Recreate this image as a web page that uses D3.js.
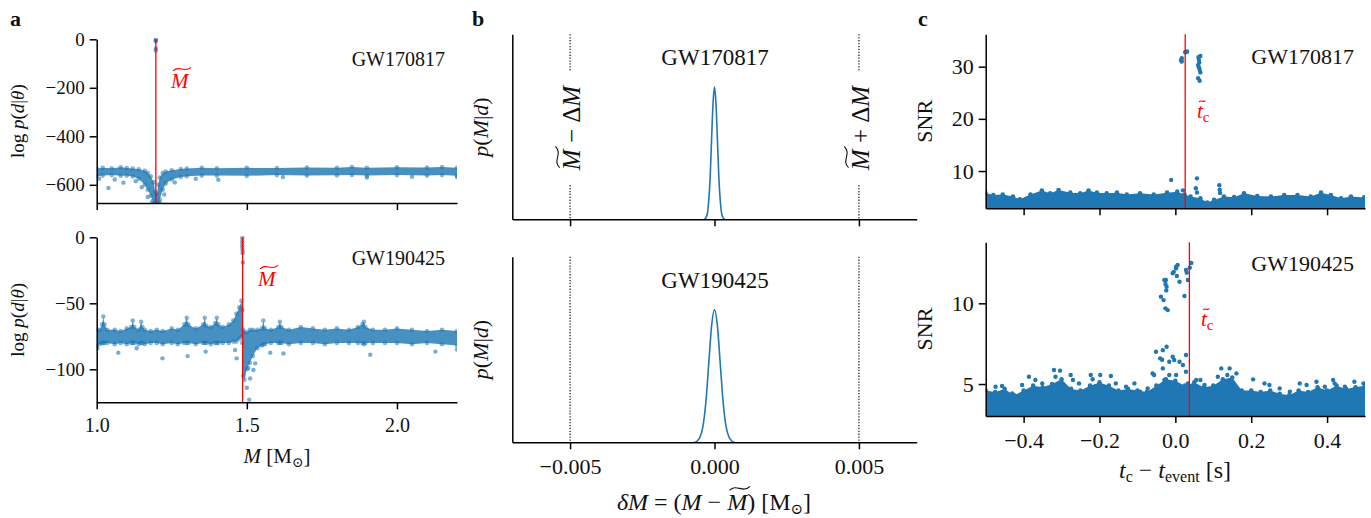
<!doctype html>
<html>
<head>
<script src="https://d3js.org/d3.v7.min.js"></script>
<style>
  body { margin: 0; background: #fff; }
  svg { font-family: "Liberation Serif", "DejaVu Serif", serif; }
  .axis path, .axis line { stroke: #000; stroke-width: 1.5; }
  .axis text { fill: #111; font-family: "Liberation Serif", serif; }
</style>
</head>
<body>
<svg width="1371" height="518"></svg>
<script>
// ---------- data ----------
// panel a, GW170817: upper / lower edge of the dense log-likelihood band, plus stray points
var aTopM  = [1.00,1.02,1.05,1.08,1.10,1.12,1.14,1.16,1.17,1.18,1.19,1.195,1.200,1.205,1.21,1.22,1.23,1.25,1.28,1.30,1.35,1.40,1.50,1.60,1.70,1.80,1.85,1.90,2.00,2.10,2.15,2.20];
var aTopHi = [-533,-530,-532,-528,-531,-533,-536,-542,-550,-565,-590,-630,-640,-600,-570,-552,-545,-540,-535,-533,-530,-532,-530,-531,-529,-530,-527,-530,-528,-529,-527,-530];
var aTopLo = [-565,-562,-560,-563,-562,-566,-575,-600,-620,-645,-675,-680,-680,-675,-660,-620,-595,-578,-568,-565,-562,-562,-563,-560,-562,-561,-560,-562,-560,-562,-560,-563];
var aTopDots = [[1.008,-575],[1.039,-613],[1.06,-578],[1.089,-591],[1.13,-585],[1.15,-610],[1.17,-650],[1.185,-668],
  [1.21,-672],[1.225,-640],[1.26,-590],[1.33,-575],[1.405,-579],[1.62,-568],[1.9,-570],[2.05,-567],[2.2,-568],
  [1.197,0],[1.197,-4],[1.197,-8],[1.197,-38],[1.197,-46]];
var aTopTrue = 1.197;

// panel a, GW190425
var aBotM  = [1.000,1.010,1.018,1.022,1.026,1.035,1.06,1.08,1.10,1.115,1.12,1.125,1.14,1.148,1.152,1.16,1.18,1.20,1.22,1.25,1.27,1.292,1.30,1.305,1.33,1.355,1.36,1.365,1.38,1.395,1.40,1.405,1.42,1.44,1.455,1.465,1.475,1.482,1.485,1.488,1.492,1.50,1.51,1.52,1.535,1.55,1.555,1.56,1.58,1.605,1.61,1.615,1.64,1.68,1.72,1.76,1.80,1.84,1.87,1.885,1.89,1.895,1.92,1.96,2.00,2.05,2.10,2.15,2.20];
var aBotHi = [-70,-70,-66,-60,-66,-70,-70,-71,-69,-68,-63,-68,-70,-64,-68,-70,-71,-70,-71,-69,-70,-66,-61,-66,-69,-66,-61,-67,-68,-65,-61,-66,-68,-66,-63,-58,-53,-48,-55,-70,-72,-72,-70,-70,-70,-69,-63,-69,-70,-68,-64,-68,-70,-68,-69,-70,-69,-70,-68,-66,-64,-68,-70,-70,-69,-70,-71,-70,-71];
var aBotLo = [-83,-81,-80,-80,-80,-80,-81,-80,-81,-80,-80,-80,-81,-80,-80,-81,-80,-80,-81,-80,-81,-80,-80,-80,-81,-80,-80,-80,-81,-80,-80,-80,-80,-80,-79,-79,-77,-75,-80,-105,-108,-100,-95,-90,-84,-82,-81,-81,-80,-80,-80,-80,-81,-80,-80,-81,-80,-80,-80,-80,-81,-80,-80,-80,-80,-81,-80,-81,-82];
var aBotDots = [[1.002,-84],[1.072,-87.4],[1.133,-84],[1.219,-91.7],[1.303,-90],[1.363,-86.6],[1.461,-85.4],[1.466,-91.7],
  [1.505,-99],[1.511,-107],[1.50,-114],[1.508,-123],[1.522,-100.5],[1.528,-95.5],[1.578,-87.4],[1.622,-88],[1.911,-89],[2.128,-86.6],[2.2,-85],
  [1.485,0],[1.485,-2],[1.485,-4],[1.485,-6],[1.485,-8],[1.486,-10],[1.486,-12],[1.487,-19]];
var aBotTrue = 1.486;

// panel b: chirp-mass posteriors (peak normalised to 1)
var bTopDM = [-0.00035,-0.0003,-0.00025,-0.0002,-0.00015,-0.0001,-0.00005,0,0.00005,0.0001,0.00015,0.0002,0.00025,0.0003,0.00035];
var bTopP  = [0,0.01,0.04,0.14,0.32,0.61,0.88,1.0,0.88,0.61,0.32,0.14,0.04,0.01,0];
var bBotDM = [-0.0007,-0.0006,-0.0005,-0.0004,-0.0003,-0.0002,-0.0001,0,0.0001,0.0002,0.0003,0.0004,0.0005,0.0006,0.0007];
var bBotP  = [0,0.01,0.04,0.12,0.30,0.59,0.88,1.0,0.88,0.59,0.30,0.12,0.04,0.01,0];
var bBounds = [-0.005, 0.005];

// panel c, GW170817: upper edge of the SNR noise floor, loud triggers
var cTopT  = [-0.501,-0.48,-0.455,-0.428,-0.41,-0.382,-0.352,-0.33,-0.308,-0.277,-0.251,-0.229,-0.207,-0.181,-0.154,-0.128,-0.093,-0.057,-0.022,0.005,0.024,0.040,0.066,0.084,0.102,0.128,0.155,0.181,0.216,0.252,0.287,0.322,0.357,0.384,0.410,0.437,0.463,0.498,0.51];
var cTopHi = [5.86,5.42,5.5,5.1,4.6,5.5,6.25,5.75,6.38,5.86,5.75,6.25,5.86,5.75,5.86,5.5,5.75,5.5,5.86,6.05,5.5,5.1,4.8,3.95,4.47,5.1,5.0,5.75,5.2,5.1,5.42,5.42,5.1,5.86,5.42,4.8,5.1,4.95,4.9];
var cTopDots = [[-0.011,8.3],[0.057,8.6],[0.054,6.7],[0.057,5.9],[0.116,7.3],[0.117,6.4],[0.118,5.8],[0.02,6.3],
  [0.017,31.6],[0.015,31.2],[0.017,31.0],[0.026,32.75],[0.031,32.9],[0.029,32.8],
  [0.066,32.05],[0.062,31.3],[0.060,30.3],[0.064,29.4],[0.066,28.9],[0.060,27.8],[0.064,27.3],[0.061,31.8],[0.063,30.8],[0.062,29.9]];
var cTopTrue = 0.026;

// panel c, GW190425
var cBotT  = [-0.5,-0.475,-0.45,-0.425,-0.40,-0.375,-0.35,-0.325,-0.30,-0.275,-0.25,-0.225,-0.20,-0.175,-0.15,-0.125,-0.10,-0.075,-0.05,-0.025,0.0,0.025,0.05,0.075,0.10,0.125,0.15,0.175,0.20,0.225,0.25,0.275,0.30,0.325,0.35,0.375,0.40,0.425,0.45,0.475,0.5];
var cBotHi = [4.6,4.5,4.7,4.3,4.6,4.9,4.8,5.0,5.3,4.7,4.6,4.9,5.1,4.9,4.6,4.7,4.6,4.5,4.9,5.3,5.2,4.9,5.1,4.8,4.9,5.3,5.4,4.6,4.6,4.5,4.6,4.4,4.3,4.6,4.5,4.8,4.6,4.9,4.7,4.8,4.9];
var cBotDots = [[-0.474,4.83],[-0.457,4.88],[-0.43,4.42],[-0.404,4.94],[-0.386,5.45],[-0.369,5.25],[-0.351,5.04],
  [-0.32,5.87],[-0.304,5.83],[-0.316,5.45],[-0.302,4.83],[-0.276,5.56],[-0.27,5.25],[-0.254,5.04],[-0.223,5.56],[-0.218,5.3],
  [-0.198,5.56],[-0.17,5.5],[-0.21,4.83],[-0.157,5.04],[-0.13,4.83],[-0.108,5.04],[-0.093,4.52],[-0.073,4.73],[-0.06,5.66],[-0.056,5.56],
  [-0.051,7.0],[-0.033,7.1],[-0.023,7.31],[-0.04,6.59],[-0.035,6.5],[-0.016,6.38],[-0.003,6.49],[0.011,6.38],[-0.033,5.97],
  [-0.016,5.56],[-0.029,5.25],[0.002,5.56],[-0.045,4.83],[-0.007,6.69],[0.028,6.8],[0.02,6.18],[0.028,5.76],[0.033,5.04],
  [0.055,5.25],[0.066,5.25],[0.077,4.94],[0.121,5.97],[0.143,5.97],[0.161,5.66],[0.137,5.56],[0.112,5.45],[0.205,5.29],
  [0.235,5.04],[0.248,4.94],[0.275,4.73],[0.302,4.52],[0.328,5.04],[0.346,4.94],[0.372,5.14],[0.394,4.83],[0.416,5.25],
  [0.42,5.04],[0.447,4.83],[0.472,5.14],[0.496,5.04],
  [-0.038,10.41],[-0.031,10.2],[-0.026,9.69],[-0.025,11.44],[-0.023,11.03],[-0.024,10.8],[-0.026,11.2],[-0.007,11.86],[0.002,12.17],
  [0.006,12.37],[0.011,11.34],[0.028,12.06],[0.042,12.5],[0.033,11.44],[0.024,10.45],[-0.02,9.58],[-0.029,11.44],
  [0.002,12.27],[-0.004,11.95],[0.004,11.7],[0.038,12.2],[0.030,11.9]];
var cBotTrue = 0.037;

var events = ["GW170817", "GW190425"];

// ---------- drawing ----------
var svg = d3.select("svg");
var blue = "#1f77b4", red = "#ff0000";

function makePanel(id, x0, x1, y0, y1, xdom, ydom) {
  var x = d3.scaleLinear().domain(xdom).range([x0, x1]);
  var y = d3.scaleLinear().domain(ydom).range([y1, y0]);
  svg.append("clipPath").attr("id", id).append("rect")
    .attr("x", x0).attr("y", y0 - 1).attr("width", x1 - x0).attr("height", y1 - y0 + 1);
  var g = svg.append("g");
  var plot = g.append("g").attr("clip-path", "url(#" + id + ")");
  return {g: g, plot: plot, x: x, y: y, x0: x0, x1: x1, y0: y0, y1: y1};
}

function drawAxes(p, xticks, xfmt, xfs, yticks, yfmt, yfs) {
  var ax = p.g.append("g").attr("class", "axis")
    .attr("transform", "translate(0," + p.y1 + ")")
    .call(d3.axisBottom(p.x).tickValues(xticks).tickSize(7).tickPadding(9).tickSizeOuter(0)
      .tickFormat(xfmt ? d3.format(xfmt) : function() { return ""; }));
  ax.attr("font-size", xfs);
  var ay = p.g.append("g").attr("class", "axis")
    .attr("transform", "translate(" + p.x0 + ",0)")
    .call(d3.axisLeft(p.y).tickValues(yticks).tickSize(7).tickPadding(5).tickSizeOuter(0)
      .tickFormat(yfmt ? d3.format(yfmt) : function() { return ""; }));
  ay.attr("font-size", yfs);
}

function tilde(g, x0, x1, yc, color, sw) {
  var w = x1 - x0, a = w * 0.1;
  g.append("path")
    .attr("d", "M" + x0 + "," + (yc + a) + " C" + (x0 + w * 0.35) + "," + (yc - a * 2.6) + " " +
      (x0 + w * 0.62) + "," + (yc + a * 2.6) + " " + x1 + "," + (yc - a))
    .attr("fill", "none").attr("stroke", color).attr("stroke-width", sw || 1.1);
}

function tildeOnChar(textSel, idx, fs, color, lift) {
  var n = textSel.node();
  var s = n.getStartPositionOfChar(idx), e = n.getEndPositionOfChar(idx);
  tilde(d3.select(n.parentNode), s.x + 0.1 * fs, e.x + 0.12 * fs, s.y - (lift || 0.86) * fs, color, 1.1);
}

function eventLabel(g, x, y, txt, anchor, fs) {
  g.append("text").attr("x", x).attr("y", y).attr("text-anchor", anchor)
    .attr("font-size", fs).attr("fill", "#111").text(txt);
}

function yLabel(xBase, cy, fs, build) {
  var g = svg.append("g").attr("transform", "translate(" + xBase + "," + cy + ") rotate(-90)");
  var t = g.append("text").attr("text-anchor", "middle").attr("font-size", fs).attr("fill", "#111");
  build(t);
  return {g: g, t: t};
}

// ---- panel a ----
var aFrames = [
  makePanel("ca1", 96.7, 457, 39.3, 203, [1.0, 2.2], [-675, 0]),
  makePanel("ca2", 96.7, 457, 237.3, 402.3, [1.0, 2.2], [-125, 0])
];
var aBands = [[aTopM, aTopHi, aTopLo, aTopDots, aTopTrue], [aBotM, aBotHi, aBotLo, aBotDots, aBotTrue]];

aFrames.forEach(function(p, k) {
  var M = aBands[k][0], hi = aBands[k][1], lo = aBands[k][2], dots = aBands[k][3];
  var rows = M.map(function(m, i) { return [m, hi[i], lo[i]]; });
  p.plot.append("path").datum(rows)
    .attr("d", d3.area().x(function(d) { return p.x(d[0]); })
      .y0(function(d) { return p.y(d[2]); }).y1(function(d) { return p.y(d[1]); }))
    .attr("fill", blue).attr("fill-opacity", 0.82);
  // points on the read edges roughen the outline like the scatter
  var edge = [];
  rows.forEach(function(r) { edge.push([r[0], r[1]]); edge.push([r[0], r[2]]); });
  p.plot.selectAll("circle.e").data(edge).enter().append("circle").attr("class", "e")
    .attr("cx", function(d) { return p.x(d[0]); }).attr("cy", function(d) { return p.y(d[1]); })
    .attr("r", 2.3).attr("fill", blue).attr("fill-opacity", 0.55);
  p.plot.selectAll("circle.d").data(dots).enter().append("circle").attr("class", "d")
    .attr("cx", function(d) { return p.x(d[0]); }).attr("cy", function(d) { return p.y(d[1]); })
    .attr("r", 2.2).attr("fill", blue).attr("fill-opacity", 0.6);
  var xt = p.x(aBands[k][4]);
  p.g.append("line").attr("x1", xt).attr("x2", xt).attr("y1", p.y0).attr("y2", p.y1)
    .attr("stroke", red).attr("stroke-width", 1.3);
});
drawAxes(aFrames[0], [1.0, 1.5, 2.0], null, 20, [0, -200, -400, -600], "d", 19);
drawAxes(aFrames[1], [1.0, 1.5, 2.0], ".1f", 20, [0, -50, -100], "d", 19);

eventLabel(svg, 445, 66, events[0], "end", 20);
eventLabel(svg, 445, 265, events[1], "end", 20);

// red M-tilde labels
[[171, 88], [258, 286]].forEach(function(pos) {
  var t = svg.append("text").attr("x", pos[0]).attr("y", pos[1]).attr("font-size", 21)
    .attr("font-style", "italic").attr("fill", red).text("M");
  tildeOnChar(t, 0, 21, red, 0.9);
});

[[121.2, 24], [319.8, 24]].forEach(function(pos) {
  yLabel(pos[1], pos[0], 19, function(t) {
    t.append("tspan").text("log ");
    t.append("tspan").attr("font-style", "italic").text("p");
    t.append("tspan").text("(");
    t.append("tspan").attr("font-style", "italic").text("d");
    t.append("tspan").text("|");
    t.append("tspan").attr("font-style", "italic").text("θ");
    t.append("tspan").text(")");
  });
});

var axa = svg.append("text").attr("x", 277).attr("y", 463).attr("text-anchor", "middle")
  .attr("font-size", 21).attr("fill", "#111");
axa.append("tspan").attr("font-style", "italic").text("M");
axa.append("tspan").text(" [M");
axa.append("tspan").attr("font-size", 14).attr("dy", 4).text("⊙");
axa.append("tspan").attr("dy", -4).text("]");

// ---- panel b ----
var bFrames = [
  makePanel("cb1", 512.3, 916.7, 34.3, 219.3, [-0.007, 0.007], [0, 1.4]),
  makePanel("cb2", 512.3, 916.7, 256.7, 442.3, [-0.007, 0.007], [0, 1.4])
];
var bCurves = [[bTopDM, bTopP], [bBotDM, bBotP]];
bFrames.forEach(function(p, k) {
  bBounds.forEach(function(b) {
    p.g.append("line").attr("x1", p.x(b)).attr("x2", p.x(b)).attr("y1", p.y0).attr("y2", p.y1)
      .attr("stroke", "#111").attr("stroke-width", 1.2).attr("stroke-dasharray", "1.3,1.6");
  });
  var pts = bCurves[k][0].map(function(d, i) { return [d, bCurves[k][1][i]]; });
  p.plot.append("path").datum(pts)
    .attr("d", d3.line().curve(d3.curveMonotoneX)
      .x(function(d) { return p.x(d[0]); }).y(function(d) { return p.y(d[1]); }))
    .attr("fill", "none").attr("stroke", blue).attr("stroke-width", 1.6);
});
drawAxes(bFrames[0], [-0.005, 0, 0.005], null, 22, [], null, 22);
drawAxes(bFrames[1], [-0.005, 0, 0.005], ".3f", 22, [], null, 22);

eventLabel(svg, 715, 65, events[0], "middle", 23);
eventLabel(svg, 715, 288, events[1], "middle", 23);

// rotated bound labels with white backing over the dotted line
[[bFrames[0].x(bBounds[0]) + 10, "−"], [bFrames[0].x(bBounds[1]) + 10, "+"]].forEach(function(d) {
  var lab = yLabel(d[0], 128, 25, function(t) {
    t.append("tspan").attr("font-style", "italic").text("M");
    t.append("tspan").text(" " + d[1] + " Δ");
    t.append("tspan").attr("font-style", "italic").text("M");
  });
  var bb = lab.t.node().getBBox();
  lab.g.insert("rect", "text").attr("x", bb.x - 14).attr("y", bb.y - 2)
    .attr("width", bb.width + 28).attr("height", bb.height + 4).attr("fill", "#fff");
  tildeOnChar(lab.t, 0, 25, "#111", 0.9);
});

[[127, 488], [349.5, 488]].forEach(function(pos) {
  yLabel(pos[1], pos[0], 22, function(t) {
    t.append("tspan").attr("font-style", "italic").text("p");
    t.append("tspan").text("(");
    t.append("tspan").attr("font-style", "italic").text("M");
    t.append("tspan").text("|");
    t.append("tspan").attr("font-style", "italic").text("d");
    t.append("tspan").text(")");
  });
});

var axb = svg.append("text").attr("x", 714).attr("y", 510).attr("text-anchor", "middle")
  .attr("font-size", 24).attr("fill", "#111");
axb.append("tspan").attr("font-style", "italic").text("δM");
axb.append("tspan").text(" = (");
axb.append("tspan").attr("font-style", "italic").text("M");
axb.append("tspan").text(" − ");
axb.append("tspan").attr("font-style", "italic").text("M");
axb.append("tspan").text(") [M");
axb.append("tspan").attr("font-size", 15).attr("dy", 4).text("⊙");
axb.append("tspan").attr("dy", -4).text("]");
tildeOnChar(axb, 10, 24, "#111", 0.9);

// ---- panel c ----
var cFrames = [
  makePanel("cc1", 985.7, 1365, 34.3, 208.3, [-0.5, 0.5], [2.86, 36.2]),
  makePanel("cc2", 985.7, 1365, 242.3, 416, [-0.5, 0.5], [3.02, 13.78])
];
var cBands = [[cTopT, cTopHi, cTopDots, cTopTrue], [cBotT, cBotHi, cBotDots, cBotTrue]];
cFrames.forEach(function(p, k) {
  var T = cBands[k][0], hi = cBands[k][1];
  var rows = T.map(function(t, i) { return [t, hi[i]]; });
  var ymin = p.y.domain()[0];
  p.plot.append("path").datum(rows)
    .attr("d", d3.area().x(function(d) { return p.x(d[0]); })
      .y0(function() { return p.y(ymin) + 2; }).y1(function(d) { return p.y(d[1]); }))
    .attr("fill", blue);
  p.plot.selectAll("circle.e").data(rows).enter().append("circle").attr("class", "e")
    .attr("cx", function(d) { return p.x(d[0]); }).attr("cy", function(d) { return p.y(d[1]); })
    .attr("r", 2.3).attr("fill", blue);
  p.plot.selectAll("circle.d").data(cBands[k][2]).enter().append("circle").attr("class", "d")
    .attr("cx", function(d) { return p.x(d[0]); }).attr("cy", function(d) { return p.y(d[1]); })
    .attr("r", 2.2).attr("fill", blue);
  var xt = p.x(cBands[k][3]);
  p.g.append("line").attr("x1", xt).attr("x2", xt).attr("y1", p.y0).attr("y2", p.y1)
    .attr("stroke", red).attr("stroke-width", 1.3);
});
drawAxes(cFrames[0], [-0.4, -0.2, 0, 0.2, 0.4], null, 22, [10, 20, 30], "d", 22);
drawAxes(cFrames[1], [-0.4, -0.2, 0, 0.2, 0.4], ".1f", 22, [5, 10], "d", 22);

eventLabel(svg, 1354, 64, events[0], "end", 22);
eventLabel(svg, 1354, 271, events[1], "end", 22);

[[1197, 118], [1201, 326]].forEach(function(pos) {
  var t = svg.append("text").attr("x", pos[0]).attr("y", pos[1]).attr("font-size", 21).attr("fill", red);
  t.append("tspan").attr("font-style", "italic").text("t");
  t.append("tspan").attr("font-size", 15).attr("dy", 4).text("c");
  tildeOnChar(t, 0, 21, red, 0.8);
});

[[121.3, 932], [329, 932]].forEach(function(pos) {
  yLabel(pos[1], pos[0], 22, function(t) { t.text("SNR"); });
});

var axc = svg.append("text").attr("x", 1175).attr("y", 478).attr("text-anchor", "middle")
  .attr("font-size", 24).attr("fill", "#111");
axc.append("tspan").attr("font-style", "italic").text("t");
axc.append("tspan").attr("font-size", 16).attr("dy", 4).text("c");
axc.append("tspan").attr("dy", -4).text(" − ");
axc.append("tspan").attr("font-style", "italic").text("t");
axc.append("tspan").attr("font-size", 16).attr("dy", 4).text("event");
axc.append("tspan").attr("dy", -4).text(" [s]");

// panel letters
[["a", 10], ["b", 472], ["c", 918]].forEach(function(d) {
  svg.append("text").attr("x", d[1]).attr("y", 26).attr("font-size", 22)
    .attr("font-weight", "bold").attr("fill", "#111").text(d[0]);
});
</script>
</body>
</html>
